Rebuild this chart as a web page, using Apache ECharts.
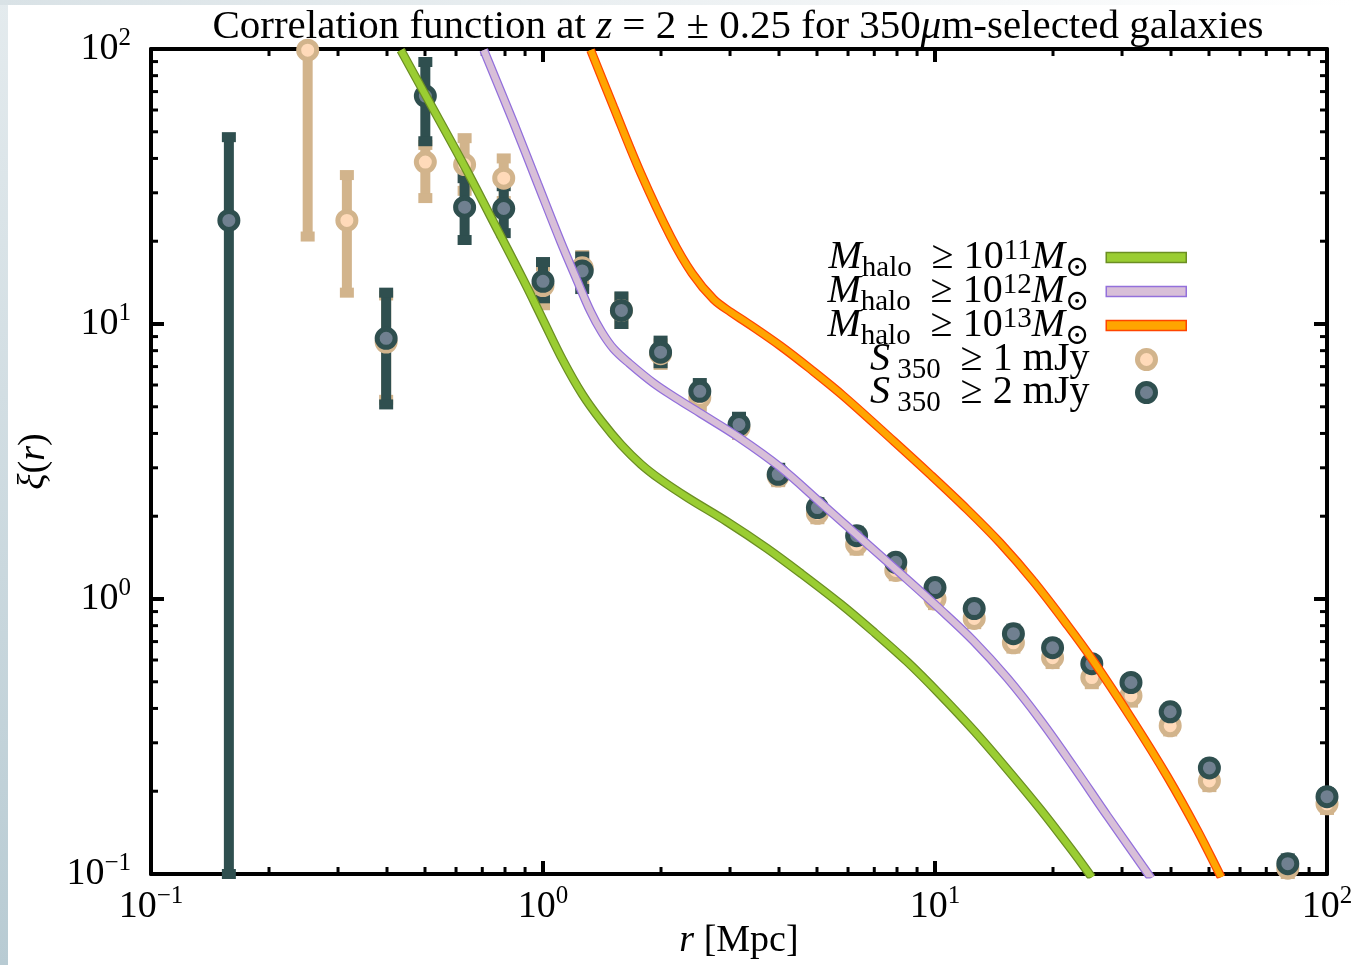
<!DOCTYPE html>
<html><head><meta charset="utf-8">
<script src="https://cdn.jsdelivr.net/npm/echarts@6/dist/echarts.min.js"></script>
<style>html,body{margin:0;padding:0;background:#fff}#c{width:1353px;height:965px}</style>
</head><body><div id="c"></div>
<script>
const FONT = '"Liberation Serif","DejaVu Serif",serif';

// ---- data ----
const halo11R  = [0.4338, 0.5012, 0.631, 0.7499, 0.8913, 1.0, 1.122, 1.259, 1.413, 1.585, 1.778, 1.995, 2.344, 2.951, 3.715, 4.571, 5.754, 6.918, 8.511, 10.23, 12.59, 15.14, 18.62, 22.39, 25.12];
const halo11Xi = [99.1, 68.08, 37.41, 23.28, 14.45, 10.35, 7.413, 5.559, 4.416, 3.631, 3.09, 2.716, 2.331, 1.908, 1.533, 1.233, 0.957, 0.767, 0.5896, 0.4539, 0.3311, 0.2443, 0.1711, 0.1217, 0.0972];

const halo12R  = [0.706, 0.842, 0.9694, 1.109, 1.212, 1.323, 1.413, 1.514, 1.660, 1.915, 2.188, 2.523, 3.155, 4.035, 5.105, 6.452, 8.16, 10.32, 12.53, 15.30, 18.57, 22.53, 27.5, 34.78, 35.6];
const halo12Xi = [99.1, 53.83, 32.36, 19.95, 14.79, 11.09, 9.333, 8.128, 7.194, 6.095, 5.370, 4.732, 3.873, 3.006, 2.239, 1.667, 1.239, 0.9162, 0.7047, 0.5152, 0.3631, 0.2466, 0.1629, 0.1012, 0.0965];

const halo13R  = [1.323, 1.514, 1.774, 2.116, 2.399, 2.724, 3.020, 3.325, 4.035, 4.812, 5.842, 7.834, 9.734, 12.09, 14.68, 17.82, 21.76, 25.34, 32.04, 39.12, 46.67, 52.78, 53.7];
const halo13Xi = [99.1, 61.52, 35.48, 20.80, 15.31, 12.30, 11.02, 10.07, 8.318, 6.855, 5.470, 3.758, 2.831, 2.113, 1.596, 1.161, 0.8035, 0.5957, 0.3589, 0.2265, 0.1445, 0.1023, 0.0973];

// S350 >= 1 mJy
const s1R  = [0.251, 0.316, 0.398, 0.501, 0.631, 0.794, 1.0, 1.259, 1.585, 1.995, 2.512, 3.162, 3.981, 5.012, 6.31, 7.943, 10.0, 12.59, 15.85, 19.95, 25.12, 31.62, 39.81, 50.12, 79.43, 100];
const s1Xi = [99, 23.8, 8.6, 38.8, 38.0, 33.9, 13.8, 16.0, 11.2, 7.8, 5.4, 4.2, 2.8, 2.05, 1.58, 1.27, 1.0, 0.85, 0.693, 0.612, 0.518, 0.445, 0.346, 0.218, 0.105, 0.18];
const s1Lo = [20.8, 13.0, 5.3, 28.7, 30.5, 28.0, 11.7, 14.2, 10.0, 7.1, 5.0, 3.95, 2.66, 1.95, 1.5, 1.21, 0.95, 0.81, 0.66, 0.58, 0.49, 0.42, 0.33, 0.207, 0.1, 0.171];
const s1Hi = [150, 34.8, 12.7, 44.8, 47.4, 40.0, 16.2, 17.8, 12.5, 8.5, 5.8, 4.45, 2.94, 2.15, 1.66, 1.33, 1.05, 0.89, 0.73, 0.645, 0.545, 0.47, 0.362, 0.229, 0.11, 0.189];

// S350 >= 2 mJy
const s2R  = [0.158, 0.398, 0.501, 0.631, 0.794, 1.0, 1.259, 1.585, 1.995, 2.512, 3.162, 3.981, 5.012, 6.31, 7.943, 10.0, 12.59, 15.85, 19.95, 25.12, 31.62, 39.81, 50.12, 79.43, 100];
const s2Xi = [23.8, 8.87, 67.4, 26.6, 26.3, 14.3, 15.6, 11.2, 7.9, 5.69, 4.31, 2.84, 2.15, 1.70, 1.36, 1.10, 0.923, 0.748, 0.665, 0.582, 0.497, 0.389, 0.243, 0.109, 0.191];
const s2Lo = [0.1, 5.1, 46.2, 20.2, 21.4, 12.4, 13.4, 10.0, 7.2, 5.3, 4.05, 2.7, 2.05, 1.63, 1.31, 1.06, 0.89, 0.72, 0.64, 0.56, 0.48, 0.375, 0.234, 0.104, 0.184];
const s2Hi = [47.8, 13.0, 89.7, 33.9, 31.7, 16.8, 17.6, 12.6, 8.7, 6.1, 4.6, 3.0, 2.25, 1.77, 1.41, 1.14, 0.96, 0.78, 0.69, 0.60, 0.515, 0.403, 0.252, 0.114, 0.198];

const axisMin = 0.1, axisMax = 100;
const minorTickValues = [0.2,0.3,0.4,0.5,0.6,0.7,0.8,0.9, 2,3,4,5,6,7,8,9, 20,30,40,50,60,70,80,90];

const titleText = '{n|Correlation function at }{i|z}{n| = 2 ± 0.25 for 350}{i|μ}{n|m-selected galaxies}';
const legendText = {
  h11: '{mi|M}{sb|halo}{n|\u2002≥ 10}{sp|11}{mi|M}{sb|⊙}{gap| }',
  h12: '{mi|M}{sb|halo}{n|\u2002≥ 10}{sp|12}{mi|M}{sb|⊙}{gap| }',
  h13: '{mi|M}{sb|halo}{n|\u2002≥ 10}{sp|13}{mi|M}{sb|⊙}{gap| }',
  s1:  '{mi|S}{sb| 350}{n|\u2002≥ 1 mJy}{gap| }',
  s2:  '{mi|S}{sb| 350}{n|\u2002≥ 2 mJy}{gap| }'
};

// ---- helpers ----
const zip = (a, b) => a.map((v, i) => [v, b[i]]);
const zip3 = (a, b, c) => a.map((v, i) => [v, b[i], c[i]]);

function errRender(color) {
  return function (params, api) {
    const cs = params.coordSys;
    const top = cs.y, bot = cs.y + cs.height;
    const r = api.value(0), lo = api.value(1), hi = api.value(2);
    const pl = api.coord([r, lo]);
    const ph = api.coord([r, hi]);
    const x = pl[0];
    const y1 = Math.max(ph[1], top), y2 = Math.min(pl[1], bot);
    const bw = 10, cw = 14, ch = 10;
    const kids = [{ type: 'rect', shape: { x: x - bw / 2, y: y1, width: bw, height: y2 - y1 }, style: { fill: color } }];
    if (ph[1] >= top - 0.5) kids.push({ type: 'rect', shape: { x: x - cw / 2, y: ph[1] - ch / 2, width: cw, height: ch }, style: { fill: color } });
    if (pl[1] <= bot + 0.5) kids.push({ type: 'rect', shape: { x: x - cw / 2, y: pl[1] - ch / 2, width: cw, height: ch }, style: { fill: color } });
    return { type: 'group', children: kids };
  };
}

function minorRender(params, api) {
  const cs = params.coordSys;
  const v = api.value(0);
  const px = api.coord([v, 1])[0];
  const py = api.coord([1, v])[1];
  const L = cs.x, R = cs.x + cs.width, T = cs.y, B = cs.y + cs.height, len = 7;
  const st = { stroke: '#000', lineWidth: 3 };
  return { type: 'group', children: [
    { type: 'line', shape: { x1: px, y1: B, x2: px, y2: B - len }, style: st },
    { type: 'line', shape: { x1: px, y1: T, x2: px, y2: T + len }, style: st },
    { type: 'line', shape: { x1: L, y1: py, x2: L + len, y2: py }, style: st },
    { type: 'line', shape: { x1: R, y1: py, x2: R - len, y2: py }, style: st }
  ] };
}

function powLabel(v) {
  const e = Math.round(Math.log10(v));
  return '{b|10}{s|' + (e < 0 ? '\u2212' + (-e) : e) + '}';
}
const labelRich = {
  b: { fontFamily: FONT, fontSize: 38, color: '#000', lineHeight: 42 },
  s: { fontFamily: FONT, fontSize: 25, color: '#000', lineHeight: 20, padding: [0, 0, 22, 0] }
};
const legendRich = {
  n:  { fontFamily: FONT, fontSize: 40, color: '#000', lineHeight: 34 },
  mi: { fontFamily: FONT, fontSize: 40, fontStyle: 'italic', color: '#000', lineHeight: 34 },
  sb: { fontFamily: FONT, fontSize: 29, color: '#000', lineHeight: 12, padding: [22, 0, 0, 0] },
  sp: { fontFamily: FONT, fontSize: 29, color: '#000', lineHeight: 22, padding: [0, 0, 12, 0] },
  gap: { fontFamily: FONT, fontSize: 10, width: 12, lineHeight: 34 }
};

function baseAxis(pos, showLabel, margin) {
  return {
    type: 'log', logBase: 10, min: axisMin, max: axisMax, splitNumber: 3, position: pos,
    axisLine: { show: true, onZero: false, lineStyle: { color: '#000', width: 4 } },
    axisTick: { show: true, inside: true, length: 13, lineStyle: { color: '#000', width: 4 } },
    axisLabel: { show: showLabel, formatter: powLabel, rich: labelRich, margin: margin },
    splitLine: { show: false }, minorTick: { show: false }, minorSplitLine: { show: false }
  };
}

const nameRich = {
  n: { fontFamily: FONT, fontSize: 38, color: '#000' },
  i: { fontFamily: FONT, fontSize: 38, fontStyle: 'italic', color: '#000' }
};
const xBottom = baseAxis('bottom', true, 12);
xBottom.name = '{i|r}{n| [Mpc]}';
xBottom.nameLocation = 'middle';
xBottom.nameGap = 48;
xBottom.nameMoveOverlap = false;
xBottom.nameTextStyle = { rich: nameRich };
const yLeft = baseAxis('left', true, 20);
yLeft.name = '{i|ξ}{n|(}{i|r}{n|)}';
yLeft.nameLocation = 'middle';
yLeft.nameGap = 98;
yLeft.nameMoveOverlap = false;
yLeft.nameTextStyle = { rich: nameRich };

function curve(name, r, xi, edge, fill) {
  return [
    { name: name + '_edge', type: 'line', data: zip(r, xi), showSymbol: false, smooth: 0.35,
      lineStyle: { color: edge, width: 9 }, silent: true },
    { name: name, type: 'line', data: zip(r, xi), showSymbol: false, smooth: 0.35,
      color: fill, lineStyle: { color: fill, width: 6.5 }, silent: true }
  ];
}

const chart = echarts.init(document.getElementById('c'), null, { renderer: 'canvas' });
chart.setOption({
  animation: false,
  backgroundColor: '#fff',
  graphic: [
    { type: 'rect', shape: { x: 0, y: 0, width: 8, height: 965 }, z: -10,
      style: { fill: new echarts.graphic.LinearGradient(0, 0, 0, 1, [{ offset: 0, color: '#e4ebee' }, { offset: 1, color: '#b8cbd3' }]) } },
    { type: 'rect', shape: { x: 0, y: 0, width: 1353, height: 5 }, z: -10,
      style: { fill: new echarts.graphic.LinearGradient(0, 0, 1, 0, [{ offset: 0, color: '#d9e2e6' }, { offset: 0.75, color: '#f6f8f9' }, { offset: 1, color: '#ffffff' }]) } }
  ],
  title: {
    text: titleText, left: 738, top: 7, textAlign: 'center', padding: 0,
    textStyle: { fontWeight: 'normal', rich: {
      n: { fontFamily: FONT, fontSize: 41, fontWeight: 'normal', color: '#000' },
      i: { fontFamily: FONT, fontSize: 41, fontWeight: 'normal', fontStyle: 'italic', color: '#000' } } }
  },
  grid: { left: 151, right: 26, top: 49, bottom: 91, containLabel: false, outerBoundsMode: 'none' },
  xAxis: [xBottom, baseAxis('top', false, 8)],
  yAxis: [yLeft, baseAxis('right', false, 8)],
  legend: [
    { orient: 'vertical', align: 'right', right: 166, top: 232, itemWidth: 80, itemHeight: 10, itemGap: -17, padding: 0,
      selectedMode: false,
      data: [
        { name: 'h11', icon: 'rect', itemStyle: { color: '#9ACD32', borderColor: '#6B8E23', borderWidth: 1.5 } },
        { name: 'h12', icon: 'rect', itemStyle: { color: '#D8BFD8', borderColor: '#9370DB', borderWidth: 1.5 } },
        { name: 'h13', icon: 'rect', itemStyle: { color: '#FFA500', borderColor: '#FF4500', borderWidth: 1.5 } }
      ],
      formatter: n => legendText[n], textStyle: { rich: legendRich } },
    { orient: 'vertical', align: 'right', right: 195, top: 334, itemWidth: 80, itemHeight: 18, itemGap: -18, padding: 0,
      selectedMode: false,
      data: [
        { name: 's1', icon: 'circle', itemStyle: { color: '#FFDAB9', borderColor: '#D2B48C', borderWidth: 5 } },
        { name: 's2', icon: 'circle', itemStyle: { color: '#708090', borderColor: '#2F4F4F', borderWidth: 5 } }
      ],
      formatter: n => legendText[n], textStyle: { rich: legendRich } }
  ],
  series: [
    ...curve('h11', halo11R, halo11Xi, '#6B8E23', '#9ACD32'),
    ...curve('h12', halo12R, halo12Xi, '#9370DB', '#D8BFD8'),
    ...curve('h13', halo13R, halo13Xi, '#FF4500', '#FFA500'),
    { name: 's1_err', type: 'custom', renderItem: errRender('#D2B48C'), data: zip3(s1R, s1Lo, s1Hi),
      encode: { x: 0, y: [1, 2] }, clip: false, silent: true },
    { name: 's1', type: 'scatter', data: zip(s1R, s1Xi), symbol: 'circle', symbolSize: 18, clip: false,
      itemStyle: { color: '#FFDAB9', borderColor: '#D2B48C', borderWidth: 5, opacity: 1 } },
    { name: 's2_err', type: 'custom', renderItem: errRender('#2F4F4F'), data: zip3(s2R, s2Lo, s2Hi),
      encode: { x: 0, y: [1, 2] }, clip: false, silent: true },
    { name: 's2', type: 'scatter', data: zip(s2R, s2Xi), symbol: 'circle', symbolSize: 18, clip: false,
      itemStyle: { color: '#708090', borderColor: '#2F4F4F', borderWidth: 5, opacity: 1 } },
    { name: 'minorTicks', type: 'custom', renderItem: minorRender, data: minorTickValues.map(v => [v, v]),
      encode: { x: 0, y: 1 }, clip: false, silent: true, z: 1 }
  ]
});
</script>
</body></html>
